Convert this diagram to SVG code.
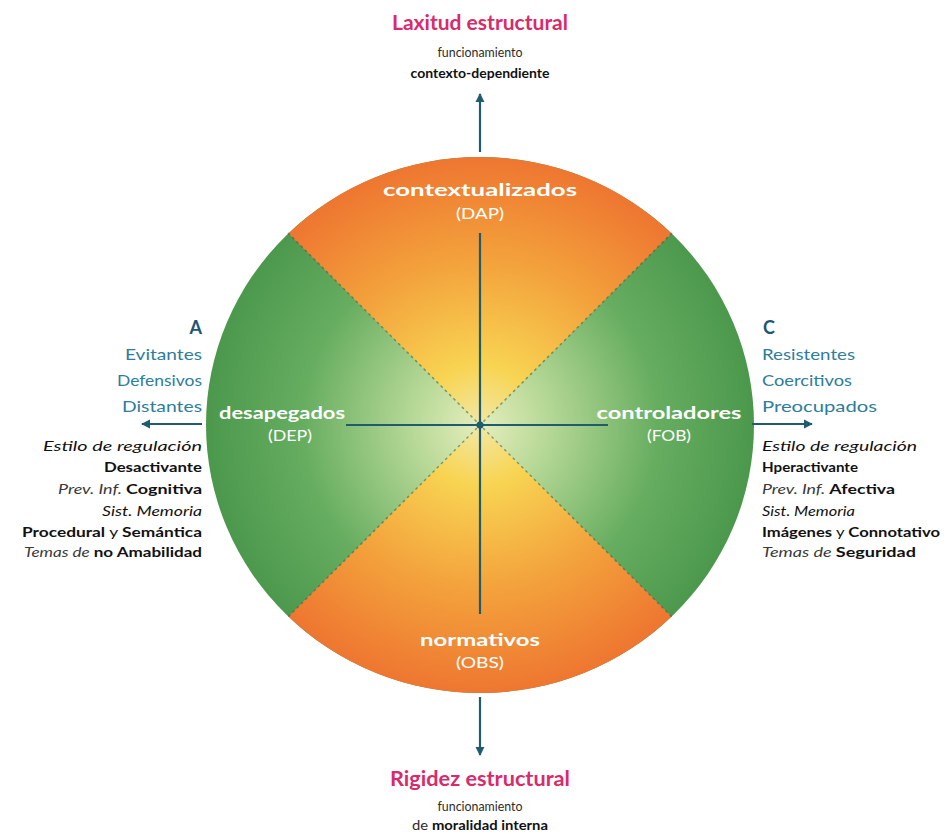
<svg xmlns="http://www.w3.org/2000/svg" width="949" height="834" viewBox="0 0 949 834">
  <style>
    text { font-family: Lato, "Open Sans", "Liberation Sans", sans-serif; }
    .pink { fill: #d92a6b; font-weight: 700; font-size: 20px; }
    .sub { fill: #2b2b2b; font-size: 14px; }
    .b { font-weight: 700; fill: #111; }
    .it { font-style: italic; fill: #3a3a3a; }
    .teal { fill: #2d7d9c; font-size: 16px; }
    .letter { fill: #1f5572; font-weight: 700; font-size: 18px; }
    .info { font-size: 14px; fill: #111; }
    .sector { fill: #ffffff; font-weight: 700; font-size: 17px; }
    .code { fill: #ffffff; font-size: 16px; }
    .axis { stroke: #1f5c70; stroke-width: 2.2; fill: none; }
    .diag { stroke: #2f6458; stroke-width: 1.6; stroke-dasharray: 1.4 4.6; stroke-linecap: round; opacity: 0.55; }
  </style>
  <defs>
    <radialGradient id="gOrange" gradientUnits="userSpaceOnUse" cx="480" cy="425" r="274">
      <stop offset="0" stop-color="#f1e8a6"/>
      <stop offset="0.22" stop-color="#f8d452"/>
      <stop offset="0.6" stop-color="#f3a23c"/>
      <stop offset="1" stop-color="#ee7430"/>
    </radialGradient>
    <radialGradient id="gGreen" gradientUnits="userSpaceOnUse" cx="480" cy="425" r="274">
      <stop offset="0" stop-color="#e6eebc"/>
      <stop offset="0.25" stop-color="#b6d896"/>
      <stop offset="0.65" stop-color="#66ad60"/>
      <stop offset="1" stop-color="#4b984d"/>
    </radialGradient>
    <marker id="head" viewBox="0 0 10 10" refX="9" refY="5" markerWidth="4.2" markerHeight="4.2" orient="auto" markerUnits="strokeWidth">
      <path d="M0,0 L10,5 L0,10 Z" fill="#1f5c70"/>
    </marker>
  </defs>

  <rect width="949" height="834" fill="#ffffff"/>

  <!-- circle split into four sectors -->
  <g id="circle">
    <ellipse cx="480" cy="425" rx="274" ry="268" fill="url(#gGreen)"/>
    <path d="M480,425 L288.4,233.4 A274,268 0 0 1 671.6,233.4 Z" fill="url(#gOrange)"/>
    <path d="M480,425 L671.6,616.6 A274,268 0 0 1 288.4,616.6 Z" fill="url(#gOrange)"/>
    <line class="diag" x1="288.4" y1="233.4" x2="671.6" y2="616.6"/>
    <line class="diag" x1="671.6" y1="233.4" x2="288.4" y2="616.6"/>
  </g>

  <!-- axes and arrows -->
  <g id="connectors">
    <line class="axis" x1="480" y1="233" x2="480" y2="614"/>
    <line class="axis" x1="346" y1="425" x2="608" y2="425"/>
    <circle cx="480" cy="425" r="3.6" fill="#1f5c70"/>
    <line class="axis" x1="480" y1="152" x2="480" y2="94" marker-end="url(#head)"/>
    <line class="axis" x1="480" y1="697" x2="480" y2="755" marker-end="url(#head)"/>
    <line class="axis" x1="202" y1="424" x2="142" y2="424" marker-end="url(#head)"/>
    <line class="axis" x1="752" y1="424" x2="812" y2="424" marker-end="url(#head)"/>
  </g>

  <!-- sector labels -->
  <g id="contextualizados">
    <text class="sector" x="480" y="196" text-anchor="middle" textLength="194" lengthAdjust="spacingAndGlyphs">contextualizados</text>
    <text class="code" x="480" y="219" text-anchor="middle" textLength="48" lengthAdjust="spacingAndGlyphs">(DAP)</text>
  </g>
  <g id="normativos">
    <text class="sector" x="480" y="646" text-anchor="middle" textLength="120" lengthAdjust="spacingAndGlyphs">normativos</text>
    <text class="code" x="480" y="668" text-anchor="middle" textLength="48" lengthAdjust="spacingAndGlyphs">(OBS)</text>
  </g>
  <g id="desapegados">
    <text class="sector" x="282" y="419" text-anchor="middle" textLength="126" lengthAdjust="spacingAndGlyphs">desapegados</text>
    <text class="code" x="290" y="441" text-anchor="middle" textLength="44" lengthAdjust="spacingAndGlyphs">(DEP)</text>
  </g>
  <g id="controladores">
    <text class="sector" x="669" y="419" text-anchor="middle" textLength="145" lengthAdjust="spacingAndGlyphs">controladores</text>
    <text class="code" x="669" y="441" text-anchor="middle" textLength="44" lengthAdjust="spacingAndGlyphs">(FOB)</text>
  </g>

  <!-- top pole -->
  <g id="laxitud">
    <text class="pink" x="480" y="30" text-anchor="middle" textLength="176" lengthAdjust="spacingAndGlyphs">Laxitud estructural</text>
    <text class="sub" x="480" y="57" text-anchor="middle" textLength="85" lengthAdjust="spacingAndGlyphs">funcionamiento</text>
    <text class="sub b" x="480" y="78" text-anchor="middle" textLength="139" lengthAdjust="spacingAndGlyphs">contexto-dependiente</text>
  </g>

  <!-- bottom pole -->
  <g id="rigidez">
    <text class="pink" x="480" y="786" text-anchor="middle" textLength="180" lengthAdjust="spacingAndGlyphs">Rigidez estructural</text>
    <text class="sub" x="480" y="811" text-anchor="middle" textLength="85" lengthAdjust="spacingAndGlyphs">funcionamiento</text>
    <text class="sub" x="480" y="830" text-anchor="middle" textLength="136" lengthAdjust="spacingAndGlyphs">de <tspan class="b">moralidad interna</tspan></text>
  </g>

  <!-- left pole: A -->
  <g id="tipo-a" text-anchor="end">
    <text class="letter" x="202" y="334">A</text>
    <text class="teal" x="202" y="360" textLength="77" lengthAdjust="spacingAndGlyphs">Evitantes</text>
    <text class="teal" x="202" y="386" textLength="85" lengthAdjust="spacingAndGlyphs">Defensivos</text>
    <text class="teal" x="202" y="412" textLength="80" lengthAdjust="spacingAndGlyphs">Distantes</text>
    <text class="info it" x="202" y="451" textLength="159" lengthAdjust="spacingAndGlyphs">Estilo de regulación</text>
    <text class="info b" x="202" y="472" textLength="98" lengthAdjust="spacingAndGlyphs">Desactivante</text>
    <text class="info" x="202" y="494" textLength="144" lengthAdjust="spacingAndGlyphs"><tspan class="it">Prev. Inf. </tspan><tspan class="b">Cognitiva</tspan></text>
    <text class="info it" x="202" y="516" textLength="100" lengthAdjust="spacingAndGlyphs">Sist. Memoria</text>
    <text class="info" x="202" y="537" textLength="180" lengthAdjust="spacingAndGlyphs"><tspan class="b">Procedural</tspan> y <tspan class="b">Semántica</tspan></text>
    <text class="info" x="202" y="557" textLength="178" lengthAdjust="spacingAndGlyphs"><tspan class="it">Temas de </tspan><tspan class="b">no Amabilidad</tspan></text>
  </g>

  <!-- right pole: C -->
  <g id="tipo-c">
    <text class="letter" x="763" y="334">C</text>
    <text class="teal" x="762" y="360" textLength="93" lengthAdjust="spacingAndGlyphs">Resistentes</text>
    <text class="teal" x="762" y="386" textLength="90" lengthAdjust="spacingAndGlyphs">Coercitivos</text>
    <text class="teal" x="762" y="412" textLength="115" lengthAdjust="spacingAndGlyphs">Preocupados</text>
    <text class="info it" x="762" y="451" textLength="155" lengthAdjust="spacingAndGlyphs">Estilo de regulación</text>
    <text class="info b" x="762" y="472" textLength="96" lengthAdjust="spacingAndGlyphs">Hperactivante</text>
    <text class="info" x="762" y="494" textLength="133" lengthAdjust="spacingAndGlyphs"><tspan class="it">Prev. Inf. </tspan><tspan class="b">Afectiva</tspan></text>
    <text class="info it" x="762" y="516" textLength="93" lengthAdjust="spacingAndGlyphs">Sist. Memoria</text>
    <text class="info" x="762" y="537" textLength="178" lengthAdjust="spacingAndGlyphs"><tspan class="b">Imágenes</tspan> y <tspan class="b">Connotativo</tspan></text>
    <text class="info" x="762" y="557" textLength="154" lengthAdjust="spacingAndGlyphs"><tspan class="it">Temas de </tspan><tspan class="b">Seguridad</tspan></text>
  </g>
</svg>
